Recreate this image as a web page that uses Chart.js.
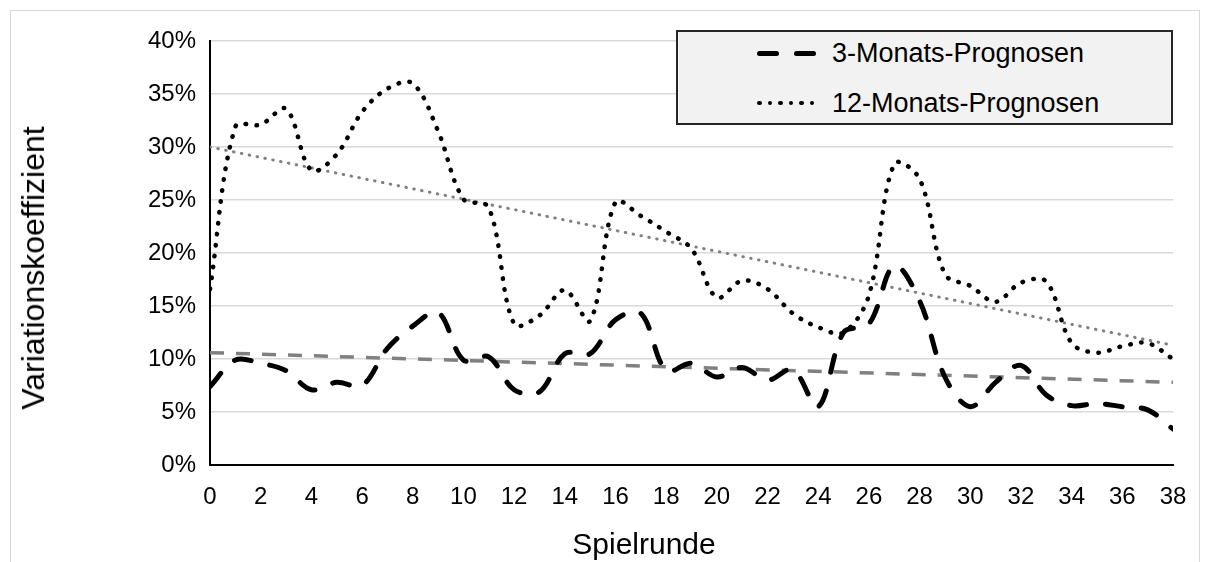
<!DOCTYPE html>
<html>
<head>
<meta charset="utf-8">
<script src="https://cdn.jsdelivr.net/npm/chart.js@4.4.1/dist/chart.umd.min.js"></script>
<style>
  html, body { margin: 0; padding: 0; background: #fff; overflow: hidden; }
  body { width: 1209px; height: 562px; position: relative; font-family: "Liberation Sans", Arial, sans-serif; color: #000; }
  .frame { position: absolute; left: 10px; top: 10px; width: 1190px; height: 640px; border: 1px solid #d9d9d9; box-sizing: border-box; }
  .chart-wrap { position: absolute; left: 0; top: 0; width: 1209px; height: 562px; }
  .axis-title { position: absolute; white-space: nowrap; line-height: 1; }
  #yTitle { left: 33px; top: 268px; font-size: 32px; transform: translate(-50%, -50%) rotate(-90deg); }
  #xTitle { left: 644px; top: 544px; font-size: 30px; transform: translate(-50%, -50%); }
  .legend-box { position: absolute; left: 676px; top: 30px; width: 497px; height: 95px; box-sizing: border-box;
                border: 2px solid #262626; background: #f2f2f2; }
  .legend-row { position: absolute; left: 79px; height: 42px; display: flex; align-items: center; }
  .legend-sample { width: 60px; height: 42px; position: relative; margin-right: 15px; }
  .legend-text { font-size: 27px; line-height: 42px; white-space: nowrap; }
  .dash { position: absolute; top: 18.5px; width: 22px; height: 5px; border-radius: 2.5px; background: #000; }
  .dot { position: absolute; top: 18.75px; width: 4.5px; height: 4.5px; border-radius: 50%; background: #000; }
</style>
</head>
<body>
<div class="frame"></div>
<div class="chart-wrap"><canvas id="cvChart"></canvas></div>
<div class="legend-box" id="legend"></div>
<div class="axis-title" id="yTitle">Variationskoeffizient</div>
<div class="axis-title" id="xTitle">Spielrunde</div>

<script>
// Spielrunden 0..38
const rounds = [0, 1, 2, 3, 4, 5, 6, 7, 8, 9, 10, 11, 12, 13, 14, 15, 16, 17, 18, 19,
                20, 21, 22, 23, 24, 25, 26, 27, 28, 29, 30, 31, 32, 33, 34, 35, 36, 37, 38];

// Variationskoeffizient in %
const cv3Monate = [7.4, 9.9, 9.6, 8.9, 7.1, 7.8, 7.5, 11.0, 13.1, 14.4,
                   9.9, 10.2, 7.1, 6.9, 10.5, 10.5, 13.7, 14.3, 8.9, 9.6,
                   8.3, 9.2, 8.0, 9.0, 5.5, 12.5, 13.3, 18.8, 15.5, 8.3,
                   5.5, 7.8, 9.4, 6.6, 5.6, 5.8, 5.5, 5.2, 3.4];
const cv12Monate = [16.6, 31.9, 32.1, 33.6, 27.8, 29.3, 33.3, 35.5, 36.0, 31.5,
                    25.1, 24.3, 13.3, 14.1, 16.5, 13.6, 24.8, 23.5, 22.0, 20.4,
                    15.8, 17.4, 16.6, 14.3, 13.0, 12.5, 16.0, 28.4, 27.0, 18.0,
                    16.9, 15.4, 17.2, 17.3, 11.5, 10.6, 11.2, 11.5, 10.0];

// lineare Trendlinien (Anfangs- und Endwert)
const trendRounds = [0, 38];
const trend3Monate = [10.6, 7.8];
const trend12Monate = [30.0, 11.3];

const seriesNames = ["3-Monats-Prognosen", "12-Monats-Prognosen"];
const yTickStep = 5;
const yMax = 40;
const xTickStep = 2;

const toPoints = (xs, ys) => xs.map((x, i) => ({ x: x, y: ys[i] }));

Chart.defaults.font.family = '"Liberation Sans", Arial, sans-serif';
Chart.defaults.color = "#000";

const chart = new Chart(document.getElementById("cvChart"), {
  type: "line",
  data: {
    labels: rounds,
    datasets: [
      {
        label: seriesNames[0],
        data: cv3Monate,
        borderColor: "#000",
        borderWidth: 5,
        borderDash: [17, 19],
        borderCapStyle: "round",
        tension: 0.35,
        pointRadius: 0,
        fill: false
      },
      {
        label: seriesNames[1],
        data: cv12Monate,
        borderColor: "#000",
        borderWidth: 4.5,
        borderDash: [0.5, 10.5],
        borderCapStyle: "round",
        tension: 0.35,
        pointRadius: 0,
        fill: false
      },
      {
        label: "Trend " + seriesNames[0],
        data: toPoints(trendRounds, trend3Monate),
        borderColor: "#808080",
        borderWidth: 3.5,
        borderDash: [14, 12],
        tension: 0,
        pointRadius: 0,
        fill: false
      },
      {
        label: "Trend " + seriesNames[1],
        data: toPoints(trendRounds, trend12Monate),
        borderColor: "#808080",
        borderWidth: 3,
        borderDash: [0.5, 7.5],
        borderCapStyle: "round",
        tension: 0,
        pointRadius: 0,
        fill: false
      }
    ]
  },
  options: {
    responsive: true,
    maintainAspectRatio: false,
    animation: false,
    layout: {
      padding: { top: 41, right: 36, left: 0, bottom: 0 }
    },
    plugins: {
      legend: { display: false },
      tooltip: { enabled: false }
    },
    scales: {
      x: {
        type: "linear",
        min: 0,
        max: 38,
        afterFit: (scale) => { scale.height = 97; },
        grid: { display: false, drawTicks: false },
        border: { display: true, color: "#000", width: 2 },
        ticks: {
          stepSize: xTickStep,
          padding: 18,
          maxRotation: 0,
          font: { size: 24 },
          color: "#000"
        }
      },
      y: {
        min: 0,
        max: yMax,
        afterFit: (scale) => { scale.width = 210; },
        grid: { color: "#d9d9d9", lineWidth: 1.5, drawTicks: false },
        border: { display: true, color: "#000", width: 2 },
        ticks: {
          stepSize: yTickStep,
          padding: 14,
          font: { size: 24 },
          color: "#000",
          callback: (v) => v + "%"
        }
      }
    }
  }
});

// HTML-Legende aus den Datensätzen
const legend = document.getElementById("legend");
chart.data.datasets.slice(0, 2).forEach((ds, i) => {
  const row = document.createElement("div");
  row.className = "legend-row";
  row.style.top = (i * 50) + "px";
  const sample = document.createElement("div");
  sample.className = "legend-sample";
  if (i === 0) {
    [0, 37].forEach(left => {
      const d = document.createElement("span");
      d.className = "dash";
      d.style.left = left + "px";
      sample.appendChild(d);
    });
  } else {
    [0, 1, 2, 3, 4, 5].forEach(k => {
      const d = document.createElement("span");
      d.className = "dot";
      d.style.left = (k * 10.5) + "px";
      sample.appendChild(d);
    });
  }
  const text = document.createElement("span");
  text.className = "legend-text";
  text.textContent = ds.label;
  row.appendChild(sample);
  row.appendChild(text);
  legend.appendChild(row);
});
</script>
</body>
</html>
